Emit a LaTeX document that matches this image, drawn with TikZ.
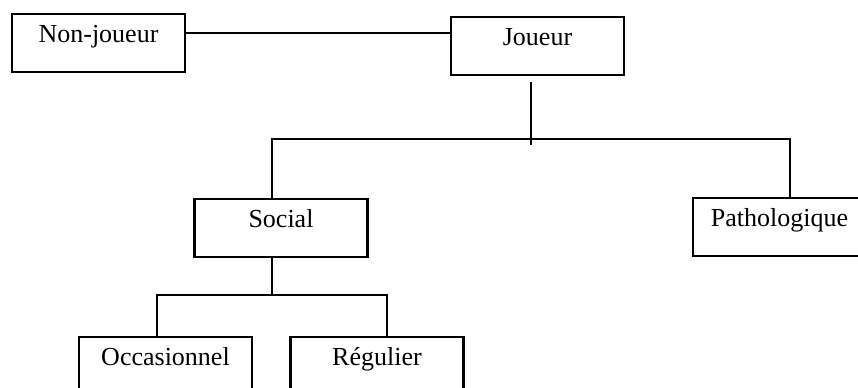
\documentclass[tikz,border=0pt]{standalone}
\usepackage{fontspec}
\setmainfont{Liberation Serif}
\usetikzlibrary{positioning}
\tikzset{
    box/.style={
        rectangle,
        draw=black,
        line width=1.2pt,
        fill=white,
        minimum width=86.5pt,
        inner xsep=0pt,
        inner ysep=0pt,
        text height=14pt,
        text depth=15pt,
        anchor=north,
        font=\fontsize{13}{15}\selectfont
    },
    branch/.style={
        draw=black,
        line width=1.1pt
    }
}
\begin{document}
\begin{tikzpicture}[x=0.5pt,y=-0.5pt]
\useasboundingbox (0,0) rectangle (858,387);
\clip (0,0) rectangle (858,387);

% Boxes
\node[box] (nonjoueur) at (98.5,13) {Non-joueur};
\node[box] (joueur) at (537.5,16) {Joueur};
\node[box] (social) at (281,198) {Social};
\node[box] (patho) at (779.5,197) {Pathologique};
\node[box] (occas) at (165.5,336) {Occasionnel};
\node[box] (regul) at (377,336) {Régulier};

% Branch points
\coordinate (link) at (0,33);
\coordinate (jtrunk) at (531,145);
\coordinate (sleft) at (272,139);
\coordinate (pright) at (790,139);
\coordinate (strunk) at (272,295);
\coordinate (oleft) at (157,295);
\coordinate (rright) at (387,295);

% Connectors
\draw[branch] (nonjoueur.east |- link) -- (joueur.west |- link);
\draw[branch, shorten <=3pt] (joueur.south -| jtrunk) -- (jtrunk);
\draw[branch] (social.north -| sleft) -- (sleft) -- (pright) -- (patho.north -| pright);
\draw[branch] (social.south -| strunk) -- (strunk);
\draw[branch] (occas.north -| oleft) -- (oleft) -- (rright) -- (regul.north -| rright);

\end{tikzpicture}
\end{document}
